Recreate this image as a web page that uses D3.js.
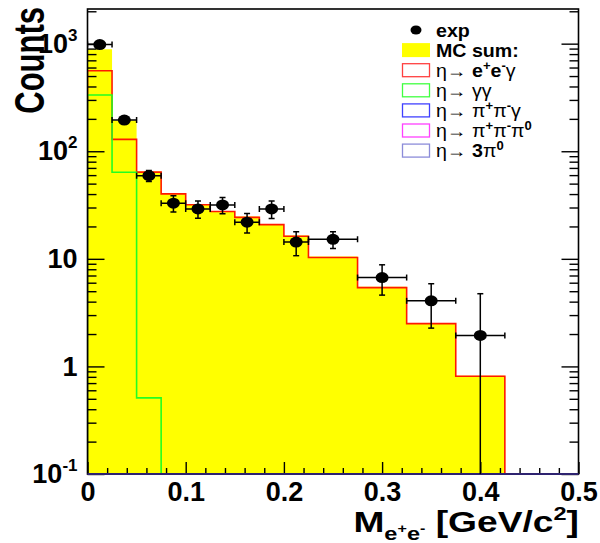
<!DOCTYPE html>
<html><head><meta charset="utf-8">
<script src="https://cdn.jsdelivr.net/npm/d3@7"></script>
<style>body{margin:0;background:#fff} svg{display:block;font-family:"Liberation Sans",Arial,sans-serif}</style>
</head><body>
<svg id="c" width="600" height="543"></svg>
<script>
// ---------- data ----------
const binEdges = [0,0.025,0.05,0.075,0.1,0.125,0.15,0.175,0.2,0.225,0.275,0.325,0.375,0.425];
const mcSum    = [885,193,64.7,40.7,32.2,27.9,24.7,21.1,16.5,10.5,5.5,2.53,0.82];
const etaEEG   = [560,129,64,40.2,31.8,27.5,24.3,20.8,16.2,10.3,5.4,2.5,0.81];
const ggEdges  = [0,0.025,0.05,0.075];
const etaGG    = [333,63.8,0.51];
const expX     = [0.0125,0.0375,0.0625,0.0875,0.1125,0.1375,0.1625,0.1875,0.2125,0.25,0.30,0.35,0.40];
const expXErr  = [0.0125,0.0125,0.0125,0.0125,0.0125,0.0125,0.0125,0.0125,0.0125,0.025,0.025,0.025,0.025];
const expY     = [980,195,59.3,32.9,29.1,31.7,21.9,29.1,14.3,15.2,6.7,4.07,1.94];
const expYErr  = [31,14,7,5.6,5.3,5.5,4.5,5.4,3.6,2.7,2.1,1.8,2.8];
const xMajorTicks = [0,0.1,0.2,0.3,0.4,0.5];
const xTickLabels = ["0","0.1","0.2","0.3","0.4","0.5"];
const yMajorTicks = [0.1,1,10,100,1000];
const yTickBase   = ["10","1","10","10","10"];
const yTickExp    = ["-1","","","2","3"];
const legendNames = ["exp","MC sum:","eeg","gg","ppg","ppp","3p"];
const legendColors = [null,"#ffff00","#ff0000","#00ff00","#0000ff","#ff00ff","#6666cc"];

// ---------- layout ----------
const svg = d3.select("#c");
const L = 87.5, R = 578.5, T = 9, B = 474;
const x = d3.scaleLinear().domain([0,0.5]).range([L,R]);
const y = d3.scaleLog().domain([0.1,2100]).range([B,T]);

svg.append("rect").attr("width",600).attr("height",543).attr("fill","#fff");
svg.append("defs").append("clipPath").attr("id","clip")
  .append("rect").attr("x",L).attr("y",T).attr("width",R-L).attr("height",B-T);

function stepPoints(edges, vals){
  const pts = [[edges[0],0.1]];
  vals.forEach((v,i)=>{ pts.push([edges[i],v]); pts.push([edges[i+1],v]); });
  pts.push([edges[edges.length-1],0.1]);
  return pts;
}
const line = d3.line().x(d=>x(d[0])).y(d=>y(Math.max(d[1],0.1)));
const plot = svg.append("g").attr("clip-path","url(#clip)");

plot.append("path").attr("d", line(stepPoints(binEdges, mcSum)) + "Z")
  .attr("fill","#ffff00").attr("stroke","none");
plot.append("path").attr("d", line(stepPoints(binEdges, etaEEG)))
  .attr("fill","none").attr("stroke","#ff1a00").attr("stroke-width",1.6);
plot.append("path").attr("d", line(stepPoints(ggEdges, etaGG)))
  .attr("fill","none").attr("stroke","#22ff22").attr("stroke-width",1.6);

// ---------- axes ----------
const xMinor = d3.range(0,0.5001,0.02).map(v=>+v.toFixed(3)).filter(v=>!xMajorTicks.some(m=>Math.abs(m-v)<1e-6));
const yMinor = [];
[0.1,1,10,100,1000].forEach(d=>{ for(let k=2;k<=9;k++){ const v=d*k; if(v<=2100) yMinor.push(v);} });

function styleAxis(g){ g.select(".domain").remove(); g.selectAll(".tick line").attr("stroke","#000").attr("stroke-width",1.4); }

svg.append("g").attr("transform",`translate(0,${B})`)
  .call(d3.axisBottom(x).tickValues(xMinor).tickSize(-6).tickFormat("")).call(styleAxis);
const gx = svg.append("g").attr("transform",`translate(0,${B})`)
  .call(d3.axisBottom(x).tickValues(xMajorTicks).tickSize(-12).tickPadding(8)
    .tickFormat((d,i)=>xTickLabels[i])).call(styleAxis);
gx.selectAll(".tick text").attr("font-size",27).attr("font-weight","bold").attr("fill","#000")
  .attr("font-family","'Liberation Sans',Arial,sans-serif");

svg.append("g").attr("transform",`translate(${L},0)`)
  .call(d3.axisLeft(y).tickValues(yMinor).tickSize(-9).tickFormat("")).call(styleAxis);
const gy = svg.append("g").attr("transform",`translate(${L},0)`)
  .call(d3.axisLeft(y).tickValues(yMajorTicks).tickSize(-17).tickPadding(10).tickFormat("")).call(styleAxis);
gy.selectAll(".tick text").each(function(d,i){
  const t = d3.select(this).attr("font-weight","bold").attr("fill","#000")
    .attr("font-family","'Liberation Sans',Arial,sans-serif").attr("font-size",27);
  t.append("tspan").text(yTickBase[i]);
  if (yTickExp[i]) t.append("tspan").attr("font-size",17).attr("dy","-0.7em").text(yTickExp[i]);
});

svg.append("g").attr("transform",`translate(${R},0)`)
  .call(d3.axisRight(y).tickValues(yMinor).tickSize(-9).tickFormat("")).call(styleAxis);
svg.append("g").attr("transform",`translate(${R},0)`)
  .call(d3.axisRight(y).tickValues(yMajorTicks).tickSize(-17).tickFormat("")).call(styleAxis);

// frame
svg.append("rect").attr("x",L).attr("y",T).attr("width",R-L).attr("height",B-T)
  .attr("fill","none").attr("stroke","#000").attr("stroke-width",1.6);
svg.append("line").attr("x1",L).attr("x2",R).attr("y1",B).attr("y2",B)
  .attr("stroke","#2e2370").attr("stroke-width",2);

// ---------- data points ----------
const pts = svg.append("g").attr("clip-path","url(#clip)");
expX.forEach((cx,i)=>{
  const cy = expY[i], ex = expXErr[i], ey = expYErr[i];
  const lo = Math.max(cy-ey, 0.1), hi = cy+ey;
  const g = pts.append("g").attr("stroke","#000").attr("stroke-width",1.5);
  g.append("line").attr("x1",x(cx-ex)).attr("x2",x(cx+ex)).attr("y1",y(cy)).attr("y2",y(cy));
  g.append("line").attr("x1",x(cx)).attr("x2",x(cx)).attr("y1",y(lo)).attr("y2",y(hi));
  [cx-ex,cx+ex].forEach(v=>g.append("line").attr("x1",x(v)).attr("x2",x(v)).attr("y1",y(cy)-3).attr("y2",y(cy)+3));
  g.append("line").attr("x1",x(cx)-3).attr("x2",x(cx)+3).attr("y1",y(hi)).attr("y2",y(hi));
  if (cy-ey>0.1) g.append("line").attr("x1",x(cx)-3).attr("x2",x(cx)+3).attr("y1",y(lo)).attr("y2",y(lo));
  pts.append("ellipse").attr("cx",x(cx)).attr("cy",y(cy)).attr("rx",6.5).attr("ry",5.5).attr("fill","#000");
});

// ---------- titles ----------
svg.append("text").attr("transform","translate(44,7) scale(1.4,1) rotate(-90)").attr("text-anchor","end")
  .attr("font-size",31).attr("font-weight","bold").attr("fill","#000").text("Counts");

const xt = svg.append("text").attr("transform","translate(579,532) scale(1.24,1)").attr("text-anchor","end")
  .attr("font-size",30).attr("font-weight","bold").attr("fill","#000");
xt.append("tspan").text("M");
xt.append("tspan").attr("font-size",19).attr("dy",8).text("e");
xt.append("tspan").attr("font-size",13).attr("dy",-7).text("+");
xt.append("tspan").attr("font-size",19).attr("dy",7).text("e");
xt.append("tspan").attr("font-size",13).attr("dy",-7).text("-");
xt.append("tspan").attr("dy",-1).text(" [GeV/c");
xt.append("tspan").attr("font-size",19).attr("dy",-12).text("2");
xt.append("tspan").attr("dy",12).text("]");

// ---------- legend ----------
const lg = svg.append("g");
const rowY = i => 30 + i*20.1;
const LX = 436;
function lgText(i, parts){
  const t = lg.append("text").attr("transform",`translate(${LX},${rowY(i)+6.5}) scale(1.09,1)`)
    .attr("font-size",18).attr("fill","#000");
  parts.forEach(p=>{
    const s = t.append("tspan").text(p.t).attr("font-weight",p.b?"bold":"normal");
    if (p.sup){ s.attr("font-size",12).attr("dy",-7); }
    if (p.down){ s.attr("dy",7); }
  });
}
lg.append("ellipse").attr("cx",416).attr("cy",rowY(0)).attr("rx",5.5).attr("ry",4.6).attr("fill","#000");
lgText(0,[{t:legendNames[0],b:true}]);
lg.append("rect").attr("x",402).attr("y",rowY(1)-7).attr("width",28).attr("height",14).attr("fill",legendColors[1]);
lgText(1,[{t:legendNames[1],b:true}]);
for (let i=2;i<7;i++){
  lg.append("rect").attr("x",402.5).attr("y",rowY(i)-6.5).attr("width",27).attr("height",13)
    .attr("fill","none").attr("stroke",legendColors[i]).attr("stroke-width",1.3).attr("stroke-opacity",0.75);
}
const eta = "\u03b7\u2192 ";
lgText(2,[{t:eta},{t:"e",b:true},{t:"+",b:true,sup:true},{t:"e",b:true,down:true},{t:"-",b:true,sup:true},{t:"\u03b3",down:true}]);
lgText(3,[{t:eta},{t:"\u03b3\u03b3"}]);
lgText(4,[{t:eta},{t:"\u03c0"},{t:"+",b:true,sup:true},{t:"\u03c0",down:true},{t:"-",b:true,sup:true},{t:"\u03b3",down:true}]);
lgText(5,[{t:eta},{t:"\u03c0"},{t:"+",b:true,sup:true},{t:"\u03c0",down:true},{t:"-",b:true,sup:true},{t:"\u03c0",down:true},{t:"0",b:true,sup:true}]);
lgText(6,[{t:eta},{t:"3",b:true},{t:"\u03c0"},{t:"0",b:true,sup:true}]);
</script>
</body></html>
